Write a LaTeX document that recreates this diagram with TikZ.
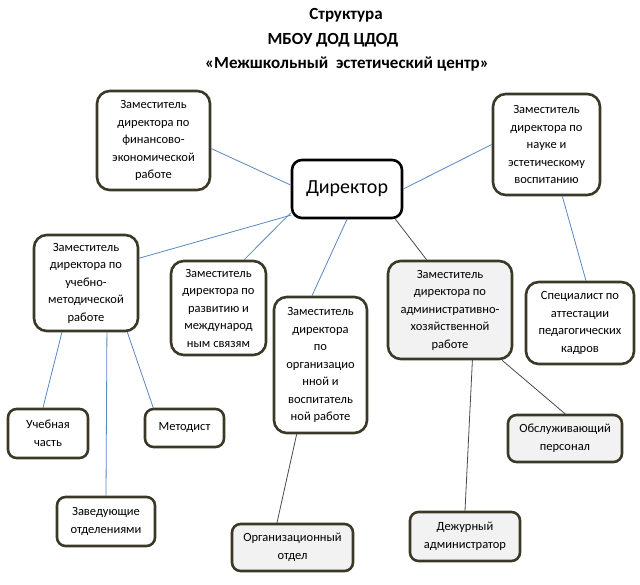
\documentclass[tikz,border=0pt]{standalone}
\usepackage{fontspec}
\setmainfont{Carlito}
\usepackage{tikz}
\usetikzlibrary{positioning}
\definecolor{boxline}{HTML}{3B3828}
\definecolor{softgray}{HTML}{F2F2F2}
\definecolor{linkblue}{HTML}{5B86BE}
\definecolor{linkdark}{HTML}{4A4A4A}
\tikzset{
    every picture/.style={line cap=round,line join=round},
    unitbox/.style={draw=boxline,fill=white,line width=2.6pt,rounded corners=4.5mm,
      inner sep=2pt,align=center,font=\fontsize{12.5}{17.5}\selectfont},
    smallbox/.style={unitbox,rounded corners=3mm},
    grayfill/.style={fill=softgray},
    headbox/.style={unitbox,draw=black,rounded corners=3.5mm,font=\fontsize{20}{24}\selectfont},
    titleline/.style={font=\bfseries\fontsize{17}{20}\selectfont},
    bluelink/.style={draw=linkblue,line width=0.8pt},
    darklink/.style={draw=linkdark,line width=0.8pt}
}
\begin{document}
\begin{tikzpicture}[x=1pt,y=-1pt]
  \useasboundingbox (0,0) rectangle (640,585);
  % title
  \node[titleline] (t1) at (346,15) {Структура};
  \node[titleline] (t2) at (333,40) {МБОУ ДОД ЦДОД};
  \node[titleline] (t3) at (347,64) {«Межшкольный\ \ эстетический центр»};
  % top level
  \node[headbox,minimum width=110pt,minimum height=58pt] (dir) at (347,189) {Директор};
  \node[unitbox,minimum width=113pt,minimum height=99pt] (fin) at (153.5,140.5)
    {Заместитель\\директора по\\финансово-\\экономической\\работе};
  \node[unitbox,minimum width=107pt,minimum height=101pt] (sci) at (546.5,144.5)
    {Заместитель\\директора по\\науке и\\эстетическому\\воспитанию};
  \node[unitbox,minimum width=104pt,minimum height=96pt] (edu) at (86,283)
    {Заместитель\\директора по\\учебно-\\методической\\работе};
  \node[unitbox,minimum width=95pt,minimum height=94pt] (dev) at (218.5,308)
    {Заместитель\\директора по\\развитию и\\международ\\ным связям};
  \node[unitbox,minimum width=93pt,minimum height=136pt] (org) at (320.5,365)
    {Заместитель\\директора\\по\\организацио\\нной и\\воспитатель\\ной работе};
  \node[unitbox,grayfill,minimum width=124pt,minimum height=98pt] (adm) at (450,310)
    {Заместитель\\директора по\\административно-\\хозяйственной\\работе};
  \node[unitbox,minimum width=108pt,minimum height=82pt] (spec) at (580,323)
    {Специалист по\\аттестации\\педагогических\\кадров};
  % lower level
  \node[smallbox,minimum width=80pt,minimum height=49pt] (uch) at (48,433.5) {Учебная\\часть};
  \node[smallbox,minimum width=79pt,minimum height=38pt] (met) at (184.5,428) {Методист};
  \node[smallbox,minimum width=98pt,minimum height=49pt] (zav) at (106,521.5) {Заведующие\\отделениями};
  \node[smallbox,grayfill,minimum width=121pt,minimum height=47pt] (oo) at (292.5,547.5)
    {Организационный\\отдел};
  \node[smallbox,grayfill,minimum width=110pt,minimum height=49pt] (dezh) at (465,536.5)
    {Дежурный\\администратор};
  \node[smallbox,grayfill,minimum width=114pt,minimum height=47pt] (obs) at (565,438.5)
    {Обслуживающий\\персонал};
  % connectors
  \draw[bluelink] (fin.-8) -- (dir.176);
  \draw[bluelink] (dir.east) -- (sci.west);
  \draw[bluelink] (dir.-155) -- (edu.25);
  \draw[bluelink] (dir.-157) -- (dev.62);
  \draw[bluelink] (dir.south) -- (org.97);
  \draw[darklink] (dir.-32) -- (adm.115);
  \draw[bluelink] (sci.-73) -- (spec.82);
  \draw[bluelink] (edu.-116) -- (uch.101);
  \draw[bluelink] (edu.-67) -- (zav.north);
  \draw[bluelink] (edu.-50) -- (met.147);
  \draw[darklink] (org.-109) -- (oo.122);
  \draw[darklink] (adm.-66) -- (dezh.north);
  \draw[darklink] (adm.-44) -- (obs.north);
\end{tikzpicture}
\end{document}
